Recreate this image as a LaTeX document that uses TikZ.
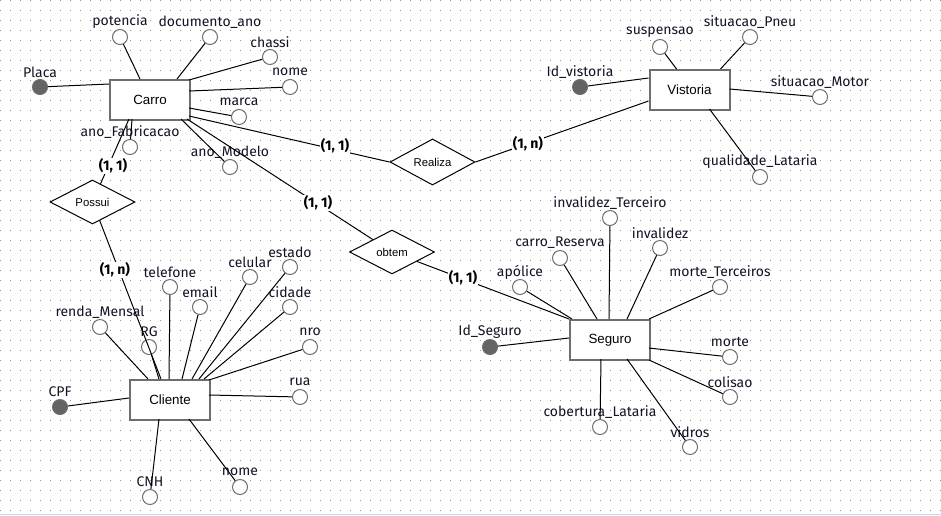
\documentclass[tikz,border=0pt]{standalone}
\usepackage{fontspec}
\setmainfont{Fira Sans}
\newfontfamily\entfont{Liberation Sans}
\usetikzlibrary{shapes.geometric,calc}
\definecolor{bord}{RGB}{110,110,110}
\definecolor{keyc}{RGB}{100,100,100}
\definecolor{dotc}{RGB}{150,150,150}
\definecolor{txt}{RGB}{20,20,40}
\definecolor{bluel}{RGB}{200,218,235}
\newcommand{\attrib}[6]{%
  \node[#2] (#1) at (#3,#4) {};
  \node[atext] (#1t) at (#3,#4-15) {#5};
  \draw[conn] (#1) -- #6;}
\begin{document}
\begin{tikzpicture}[x=0.75pt,y=-0.75pt,
  entity/.style={draw=bord, line width=1.5pt, fill=white, minimum width=60pt, minimum height=30pt, inner sep=0pt, font=\entfont\fontsize{10}{12}\selectfont},
  rel/.style={diamond, draw=black, line width=0.75pt, fill=white, minimum width=63.75pt, minimum height=33pt, inner sep=0pt, font=\entfont\fontsize{8.5}{10}\selectfont},
  attr/.style={circle, draw=bord, line width=0.75pt, fill=white, minimum size=11.25pt, inner sep=0pt},
  keyattr/.style={attr, fill=keyc},
  atext/.style={font=\fontsize{10.5}{12}\selectfont, text=txt, inner sep=0pt},
  card/.style={font=\bfseries\fontsize{10.5}{12}\selectfont, fill=white, inner sep=0.6pt},
  conn/.style={draw=black, line width=0.75pt}]
\useasboundingbox (0,0) rectangle (941,515);
\fill[white] (0,0) rectangle (941,515);
\foreach \yy in {0.5,10.5,...,510.5}
  \draw[dotc, line width=0.75pt, dash pattern=on 0.75pt off 6.75pt] (0,\yy) -- (941,\yy);
\draw[bluel, line width=1.2pt] (0,514.3) -- (941,514.3);

% entities
\node[entity] (carro) at (150,100) {Carro};
\node[entity] (vistoria) at (689.5,90) {Vistoria};
\node[entity] (seguro) at (610,340) {Seguro};
\node[entity] (cliente) at (170,400) {Cliente};

% relationships
\node[rel] (possui) at (92.5,202) {Possui};
\node[rel] (realiza) at (432.5,162) {Realiza};
\node[rel] (obtem) at (392,252) {obtem};

% Carro attributes
\attrib{placa}{keyattr}{40}{87}{Placa}{($(carro.north west)+(0,5)$)}
\attrib{potencia}{attr}{120}{37}{potencia}{($(carro.north west)+(31,0)$)}
\attrib{docano}{attr}{210}{37}{documento\_ano}{($(carro.north west)+(68,0)$)}
\attrib{chassi}{attr}{270}{57}{chassi}{($(carro.north west)+(80,1)$)}
\attrib{nomec}{attr}{290}{87}{nome}{($(carro.north west)+(80,12)$)}
\attrib{marca}{attr}{239}{117}{marca}{($(carro.north west)+(80,29)$)}
\attrib{anomod}{attr}{230}{167}{ano\_Modelo}{($(carro.north west)+(72,40)$)}
\attrib{anofab}{attr}{130}{147}{ano\_Fabricacao}{($(carro.north west)+(23,40)$)}

% Vistoria attributes
\attrib{idvist}{keyattr}{580}{87}{Id\_vistoria}{($(vistoria.north west)+(0,9)$)}
\attrib{susp}{attr}{660}{47}{suspensao}{($(vistoria.north west)+(28,0)$)}
\attrib{pneu}{attr}{750}{37}{situacao\_Pneu}{($(vistoria.north west)+(72,0)$)}
\attrib{motor}{attr}{820}{97}{situacao\_Motor}{($(vistoria.north west)+(81,20)$)}
\attrib{qualat}{attr}{760}{177}{qualidade\_Lataria}{($(vistoria.north west)+(61,40)$)}

% Seguro attributes
\attrib{idseg}{keyattr}{490}{347}{Id\_Seguro}{($(seguro.north west)+(0,19)$)}
\attrib{apolice}{attr}{520}{287}{apólice}{($(seguro.north west)+(3,0)$)}
\attrib{carres}{attr}{560}{258}{carro\_Reserva}{($(seguro.north west)+(28,0)$)}
\attrib{invter}{attr}{610}{218}{invalidez\_Terceiro}{($(seguro.north west)+(40,0)$)}
\attrib{inval}{attr}{660}{248}{invalidez}{($(seguro.north west)+(58,0)$)}
\attrib{morter}{attr}{720}{287}{morte\_Terceiros}{($(seguro.north west)+(80,0)$)}
\attrib{morte}{attr}{730}{357}{morte}{($(seguro.north west)+(80,29)$)}
\attrib{colisao}{attr}{730}{397}{colisao}{($(seguro.north west)+(80,41)$)}
\attrib{vidros}{attr}{690}{447}{vidros}{($(seguro.north west)+(58,40)$)}
\attrib{coblat}{attr}{600}{427}{cobertura\_Lataria}{($(seguro.north west)+(32,40)$)}

% Cliente attributes
\attrib{cpf}{keyattr}{60}{407}{CPF}{($(cliente.north west)+(0,19)$)}
\attrib{renda}{attr}{100}{327}{renda\_Mensal}{($(cliente.north west)+(19,0)$)}
\attrib{rg}{attr}{149}{347}{RG}{($(cliente.north west)+(30,0)$)}
\attrib{telefone}{attr}{170}{287}{telefone}{($(cliente.north west)+(40,0)$)}
\attrib{email}{attr}{200}{307}{email}{($(cliente.north west)+(53,0)$)}
\attrib{celular}{attr}{250}{277}{celular}{($(cliente.north west)+(63,0)$)}
\attrib{estado}{attr}{290}{267}{estado}{($(cliente.north west)+(70,0)$)}
\attrib{cidade}{attr}{290}{307}{cidade}{($(cliente.north west)+(75,0)$)}
\attrib{nro}{attr}{310}{347}{nro}{($(cliente.north west)+(80,1)$)}
\attrib{rua}{attr}{300}{397}{rua}{($(cliente.north west)+(80,16)$)}
\attrib{cnh}{attr}{150}{497}{CNH}{($(cliente.north west)+(30,40)$)}
\attrib{nomecl}{attr}{240}{487}{nome}{($(cliente.north west)+(60,40)$)}

% relationship connectors
\draw[conn] ($(carro.north west)+(20,40)$) -- (possui);
\draw[conn] (possui) -- ($(cliente.north west)+(32,0)$);
\draw[conn] ($(carro.north west)+(80,37)$) -- (realiza.west);
\draw[conn] (realiza.east) -- ($(vistoria.north west)+(0,32)$);
\draw[conn] ($(carro.north west)+(78,40)$) -- (obtem);
\draw[conn] (obtem) -- (seguro.north west);

% cardinalities
\node[card] (c1) at (113,166) {(1, 1)};
\node[card] (c2) at (115,270) {(1, n)};
\node[card] (c3) at (335,146) {(1, 1)};
\node[card] (c4) at (528,144) {(1, n)};
\node[card] (c5) at (318,203) {(1, 1)};
\node[card] (c6) at (463,278) {(1, 1)};
\end{tikzpicture}
\end{document}
